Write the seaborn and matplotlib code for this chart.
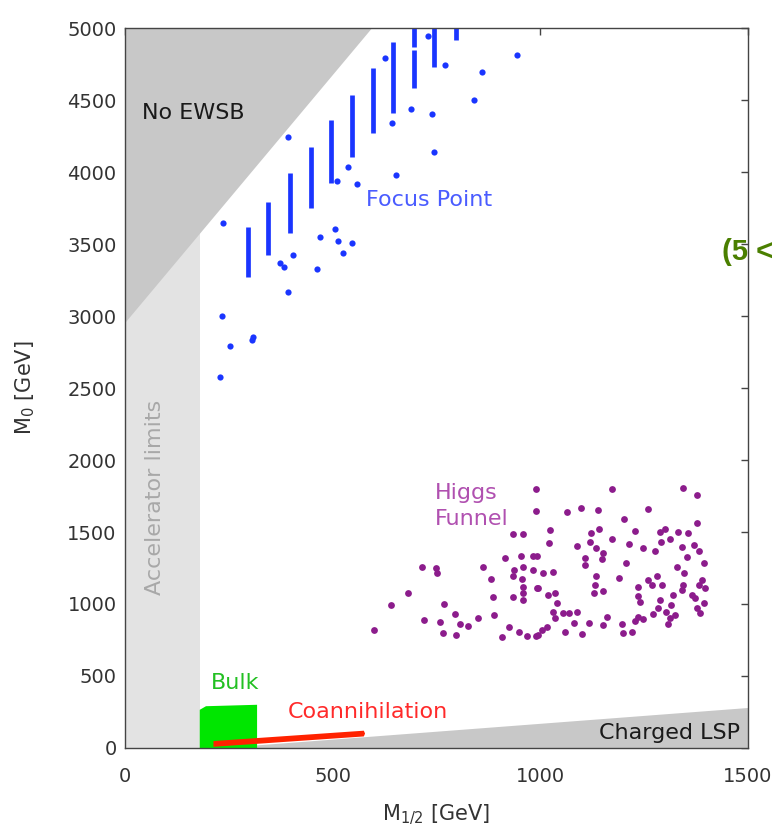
import matplotlib
matplotlib.use("Agg")
import matplotlib.pyplot as plt
import seaborn as sns
import pandas as pd

# ---------------- data (GeV) ----------------
# Focus point: vertical strips of points
fp_strip_x = [295, 345, 397, 447, 495, 546, 598, 646, 696, 696, 744, 796]
fp_strip_lo = [3273, 3424, 3576, 3750, 3924, 4106, 4271, 4410, 4583, 4870, 4731, 4917]
fp_strip_hi = [3620, 3794, 3993, 4176, 4361, 4535, 4720, 4905, 4847, 5040, 5040, 5040]

# Focus point: isolated points
fp_x = [235, 393, 626, 730, 771, 860, 943, 840, 738, 688, 644, 744, 653, 538, 558, 510,
        506, 470, 514, 546, 524, 462, 404, 372, 383, 393, 233, 307, 254, 229, 306]
fp_y = [3644, 4241, 4789, 4944, 4743, 4697, 4812, 4500, 4400, 4435, 4342, 4141, 3979, 4037, 3917, 3940,
        3602, 3546, 3523, 3505, 3440, 3324, 3424, 3366, 3343, 3169, 3002, 2856, 2792, 2579, 2833]

# Higgs funnel points
hf_x = [989, 989, 933, 958, 914, 953, 982, 716, 749, 751, 861, 937, 959, 983, 880, 933, 955, 959,
        959, 959, 991, 682, 887, 933, 640, 769, 889, 720, 758, 795, 807, 827, 851, 600, 766, 797,
        907, 925, 949, 967, 989,
        1172, 1344, 1378, 1064, 1098, 1138, 1260, 1202, 1378, 1023, 1142, 1122, 1228, 1173, 1288,
        1300, 1332, 1355, 1312, 1291, 1021, 1088, 1120, 1214, 1248, 1134, 1152, 1148, 1108, 1108,
        1276, 1340, 1371, 1381, 1352, 991, 1206, 1330, 1395, 1007, 1031, 1133, 1189, 1346, 1260,
        1280, 1268, 1292, 1388, 1381, 1343, 1342, 995, 1132, 1130, 1150, 1234, 1236, 1240, 1397,
        1019, 1035, 1320, 1364, 1288, 1372, 1393, 1039, 1315, 1031, 1284, 1302, 1376, 1385, 1055,
        1088, 1068, 1272, 1324, 1160, 1236, 1228, 1248, 1312, 1308, 1035, 1082, 1116, 1015, 1003,
        995, 1059, 1100, 1152, 1197, 1200, 1220]
hf_y = [1799, 1646, 1486, 1486, 1322, 1333, 1333, 1259, 1248, 1213, 1259, 1236, 1255, 1236, 1171,
        1194, 1171, 1120, 1074, 1028, 1109, 1074, 1051, 1051, 993, 998, 924, 889, 877, 931, 859,
        847, 901, 819, 796, 785, 773, 842, 803, 780, 780,
        1796, 1803, 1757, 1641, 1669, 1653, 1657, 1588, 1560, 1514, 1521, 1491, 1507, 1451, 1502,
        1519, 1502, 1491, 1449, 1433, 1426, 1403, 1433, 1417, 1391, 1387, 1356, 1310, 1317, 1271,
        1368, 1393, 1410, 1370, 1324, 1333, 1287, 1259, 1282, 1217, 1224, 1194, 1178, 1217, 1167,
        1194, 1132, 1132, 1167, 1132, 1132, 1097, 1109, 1132, 1074, 1092, 1115, 1056, 1016, 1109,
        1063, 1074, 1063, 1063, 1028, 1040, 1009, 1005, 993, 947, 970, 947, 970, 935, 935,
        947, 935, 931, 924, 912, 912, 884, 894, 901, 861, 901, 870, 866, 842, 819,
        785, 808, 792, 854, 859, 796, 803]

# Bulk region outline
bulk_x = [180, 180, 195, 318, 318]
bulk_y = [0, 265, 290, 300, 0]

# Coannihilation strip outline
coann_x = [213, 575, 578, 575, 213]
coann_y = [8, 80, 100, 120, 48]

# Excluded regions
ewsb_x = [0, 595, 0]
ewsb_y = [2950, 5000, 5000]
accel_x = [0, 180, 180, 0]
accel_y = [0, 0, 5000, 5000]
clsp_x = [235, 1500, 1500]
clsp_y = [0, 0, 280]

x_ticks = [0, 500, 1000, 1500]
y_ticks = [0, 500, 1000, 1500, 2000, 2500, 3000, 3500, 4000, 4500, 5000]

# ---------------- plotting ----------------
sns.set_theme(style="white")
plt.rcParams['font.family'] = ['DejaVu Sans']

fig = plt.figure(figsize=(7.73, 8.39), dpi=100)
ax = fig.add_axes([0.1617, 0.1085, 0.806, 0.858])

ax.fill(accel_x, accel_y, color="#e3e3e3", lw=0, zorder=0.5)
ax.fill(ewsb_x, ewsb_y, color="#c8c8c8", lw=0, zorder=0.6)
ax.fill(clsp_x, clsp_y, color="#c8c8c8", lw=0, zorder=0.6)

ax.vlines(fp_strip_x, fp_strip_lo, fp_strip_hi, color="#1a35ff", lw=3.4, zorder=2)
fp_df = pd.DataFrame({"x": fp_x, "y": fp_y})
sns.scatterplot(data=fp_df, x="x", y="y", ax=ax, color="#1a35ff", s=20, linewidth=0, zorder=2)
hf_df = pd.DataFrame({"x": hf_x, "y": hf_y})
sns.scatterplot(data=hf_df, x="x", y="y", ax=ax, color="#8c1c8c", s=24, linewidth=0, zorder=2)

ax.fill(bulk_x, bulk_y, color="#00e600", lw=0, zorder=2)
ax.fill(coann_x, coann_y, color="#ff2200", lw=0, zorder=2.1)

ax.set_xlim(0, 1500)
ax.set_ylim(0, 5000)
ax.set_xticks(x_ticks)
ax.set_yticks(y_ticks)
ax.set_xticklabels([str(v) for v in x_ticks])
ax.set_yticklabels([str(v) for v in y_ticks])
ax.tick_params(direction="in", length=5, width=1, top=True, right=True,
               labelsize=14, colors="#444444")
ax.tick_params(axis="both", labelcolor="#333333")
ax.tick_params(axis="x", pad=14)
ax.tick_params(axis="y", pad=6)
for sp in ax.spines.values():
    sp.set_color("#444444")
    sp.set_linewidth(1.0)
    sp.set_visible(True)

ax.set_xlabel(r"M$_{1/2}$ [GeV]", fontsize=15, color="#333333", labelpad=12)
ax.set_ylabel(r"M$_0$ [GeV]", fontsize=15, color="#333333", labelpad=22)

ax.text(41, 4410, "No EWSB", fontsize=16, color="#1a1a1a", va="center", ha="left", zorder=3)
ax.text(580, 3805, "Focus Point", fontsize=16, color="#4a5cff", va="center", ha="left", zorder=3)
ax.text(746, 1680, "Higgs\nFunnel", fontsize=16, color="#b050b0", va="center", ha="left",
        linespacing=1.4, zorder=3)
ax.text(72, 1743, "Accelerator limits", fontsize=16, color="#a8a8a8", va="center", ha="center",
        rotation=90, zorder=3)
ax.text(207, 451, "Bulk", fontsize=16, color="#22c022", va="center", ha="left", zorder=3)
ax.text(392, 250, "Coannihilation", fontsize=16, color="#ff2a2a", va="center", ha="left", zorder=3)
ax.text(1481, 104, "Charged LSP", fontsize=16, color="#1a1a1a", va="center", ha="right", zorder=3)

ax.text(722 / 773, 1 - 252 / 839, "(5 <", transform=fig.transFigure, fontsize=21,
        fontweight="bold", family=["Liberation Sans", "DejaVu Sans"], color="#4a7f00",
        va="center", ha="left", clip_on=False, zorder=1)

fig.savefig("out.png", dpi=100)
